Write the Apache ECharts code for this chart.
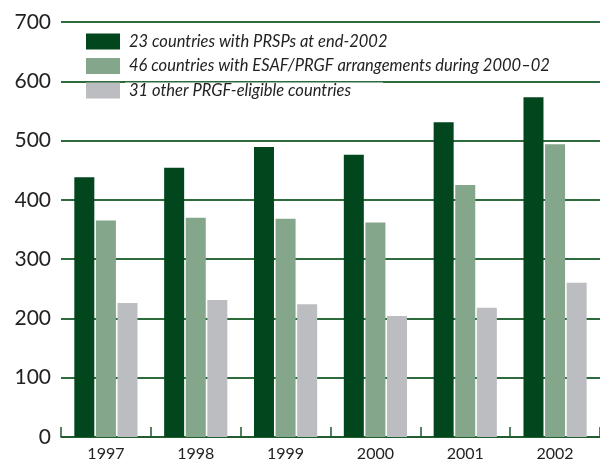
<!DOCTYPE html>
<html>
<head>
<meta charset="utf-8">
<script src="https://cdn.jsdelivr.net/npm/echarts@6/dist/echarts.min.js"></script>
<style>
  html, body { margin: 0; padding: 0; background: #fff; }
  #main { width: 600px; height: 462px; }
</style>
</head>
<body>
<div id="main"></div>
<script>
// Data
const years = ["1997", "1998", "1999", "2000", "2001", "2002"];
const prsp = [438, 454, 489, 476, 531, 573];
const esaf = [365, 370, 368, 362, 425, 494];
const other = [226, 231, 224, 204, 218, 260];
const seriesNames = [
  "23 countries with PRSPs at end-2002",
  "46 countries with ESAF/PRGF arrangements during 2000\u201302",
  "31 other PRGF-eligible countries",
];
const colors = ["#02461d", "#84a68a", "#bcbdc1"];

const font = "Lato, 'Open Sans', sans-serif";

const makeBar = (name, data, color) => ({
  name: name,
  type: "bar",
  data: data,
  barWidth: 20,
  barGap: "8%",
  itemStyle: { color: color },
});

const chart = echarts.init(document.getElementById("main"));
chart.setOption({
  animation: false,
  textStyle: { fontFamily: font },
  grid: { left: 61, right: -3, top: 22, bottom: 22, containLabel: false },
  legend: {
    orient: "vertical",
    left: 86,
    top: 33,
    padding: 0,
    itemWidth: 34,
    itemHeight: 16,
    itemGap: 7.5,
    icon: "rect",
    // white boxes behind the text hide the gridline, as in the original
    textStyle: {
      fontFamily: font,
      fontStyle: "italic",
      fontSize: 16.5,
      color: "#222",
      lineHeight: 16,
      backgroundColor: "#fff",
      padding: [0, 32, 0, 4],
    },
    data: seriesNames,
  },
  xAxis: {
    type: "category",
    data: years,
    axisLine: { lineStyle: { color: "#1d5a2e", width: 1.5 } },
    axisTick: {
      show: true,
      inside: true,
      length: 10,
      lineStyle: { color: "#1d5a2e", width: 1.5 },
    },
    axisLabel: { fontSize: 16, color: "#222", margin: 9, fontFamily: font },
  },
  yAxis: {
    type: "value",
    min: 0,
    max: 700,
    interval: 100,
    axisLine: { show: false },
    axisTick: { show: false },
    axisLabel: { fontSize: 21, color: "#222", margin: 10, fontFamily: font },
    splitLine: { lineStyle: { color: "#2e6b3c", width: 2 } },
  },
  series: [
    makeBar(seriesNames[0], prsp, colors[0]),
    makeBar(seriesNames[1], esaf, colors[1]),
    makeBar(seriesNames[2], other, colors[2]),
  ],
});
</script>
</body>
</html>
